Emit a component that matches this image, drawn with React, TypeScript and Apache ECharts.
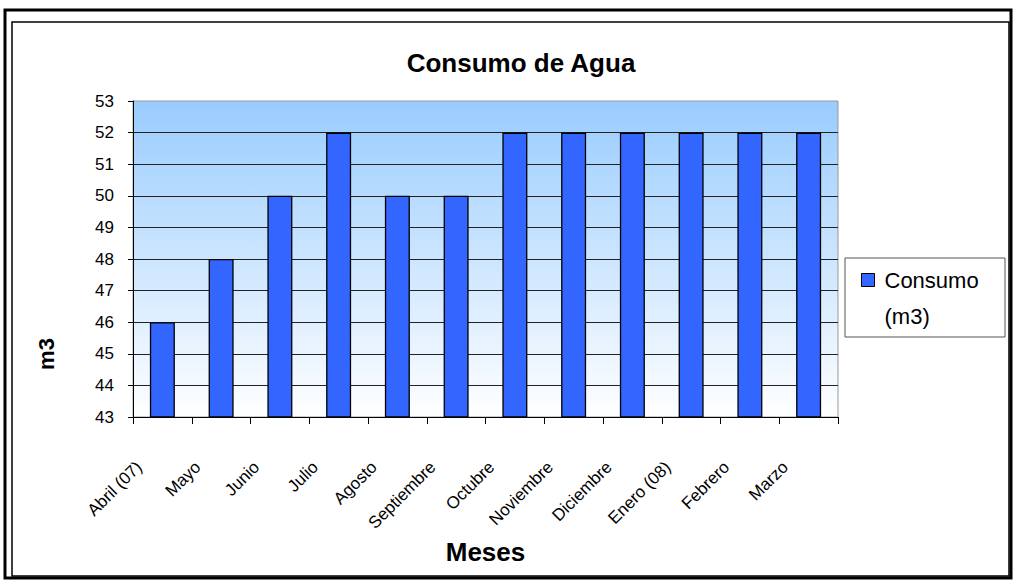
import React, { useEffect, useRef } from "react";
import * as echarts from "echarts";

const categories = [
  "Abril (07)", "Mayo", "Junio", "Julio", "Agosto", "Septiembre",
  "Octubre", "Noviembre", "Diciembre", "Enero (08)", "Febrero", "Marzo",
];
const consumo = [46, 48, 50, 52, 50, 50, 52, 52, 52, 52, 52, 52];
const yMin = 43;
const yMax = 53;
const yStep = 1;

export default function App() {
  const ref = useRef<HTMLDivElement>(null);
  useEffect(() => {
    if (!ref.current) return;
    const chart = echarts.init(ref.current, null, { renderer: "svg" });
    const font = "'Liberation Sans', Arial, sans-serif";
    chart.setOption({
      animation: false,
      backgroundColor: "#ffffff",
      title: {
        text: "Consumo de Agua",
        left: 516,
        top: 45,
        textAlign: "center",
        textStyle: { fontFamily: font, fontSize: 26, fontWeight: "bold", color: "#000" },
      },
      grid: {
        left: 133,
        top: 101,
        right: 1016 - 838,
        bottom: 584 - 417,
        show: true,
        borderColor: "#999999",
        borderWidth: 1,
        backgroundColor: {
          type: "linear", x: 0, y: 0, x2: 0, y2: 1,
          colorStops: [
            { offset: 0, color: "#99ccff" },
            { offset: 1, color: "#ffffff" },
          ],
        },
      },
      legend: {
        left: 861,
        top: 226,
        padding: 0,
        icon: "rect",
        itemWidth: 13,
        itemHeight: 13,
        itemStyle: { borderColor: "#000", borderWidth: 1 },
        formatter: () => " \nConsumo\n(m3)",
        textStyle: {
          fontFamily: font,
          fontSize: 22,
          lineHeight: 36,
          color: "#000",
          padding: [0, 0, 0, 5],
        },
      },
      xAxis: {
        type: "category",
        data: categories,
        name: "Meses",
        nameLocation: "middle",
        nameGap: 135,
        nameTextStyle: {
          fontFamily: font, fontSize: 26, fontWeight: "bold", color: "#000",
          verticalAlign: "middle",
        },
        axisLine: { lineStyle: { color: "#000", width: 1 } },
        axisTick: { show: true, length: 7, alignWithLabel: false, lineStyle: { color: "#000" } },
        axisLabel: {
          interval: 0,
          rotate: 45,
          margin: 24,
          padding: [0, 33, 0, 0],
          fontFamily: font,
          fontSize: 17,
          color: "#000",
        },
        splitLine: { show: false },
      },
      yAxis: {
        type: "value",
        min: yMin,
        max: yMax,
        interval: yStep,
        axisLine: { show: true, lineStyle: { color: "#000", width: 1 } },
        axisTick: { show: true, length: 5, lineStyle: { color: "#000" } },
        axisLabel: { margin: 19, fontFamily: font, fontSize: 17, color: "#000" },
        splitLine: {
          show: true,
          showMinLine: false,
          showMaxLine: false,
          lineStyle: { color: "#222222", width: 1 },
        },
      },
      series: [
        {
          name: "Consumo (m3)",
          type: "bar",
          data: consumo,
          barWidth: 25,
          itemStyle: { color: "#3366ff", borderColor: "#000", borderWidth: 1.3 },
        },
      ],
      graphic: [
        {
          type: "rect",
          shape: { x: 5, y: 10, width: 1006, height: 568 },
          style: { fill: "none", stroke: "#000", lineWidth: 3 },
          silent: true,
        },
        {
          type: "rect",
          shape: { x: 12, y: 22, width: 997, height: 554 },
          style: { fill: "none", stroke: "#000", lineWidth: 1.5 },
          silent: true,
        },
        {
          type: "rect",
          shape: { x: 845, y: 258, width: 160, height: 79 },
          style: { fill: "none", stroke: "#555", lineWidth: 1 },
          silent: true,
        },
        {
          type: "text",
          x: 46,
          y: 354,
          rotation: Math.PI / 2,
          style: {
            text: "m3",
            fontFamily: font,
            fontSize: 22,
            fontWeight: "bold",
            fill: "#000",
            align: "center",
            verticalAlign: "middle",
          },
        },
      ],
    });
    return () => chart.dispose();
  }, []);
  return (
    <div
      ref={ref}
      style={{ position: "fixed", left: 0, top: 0, width: 1016, height: 584, background: "#fff" }}
    />
  );
}
